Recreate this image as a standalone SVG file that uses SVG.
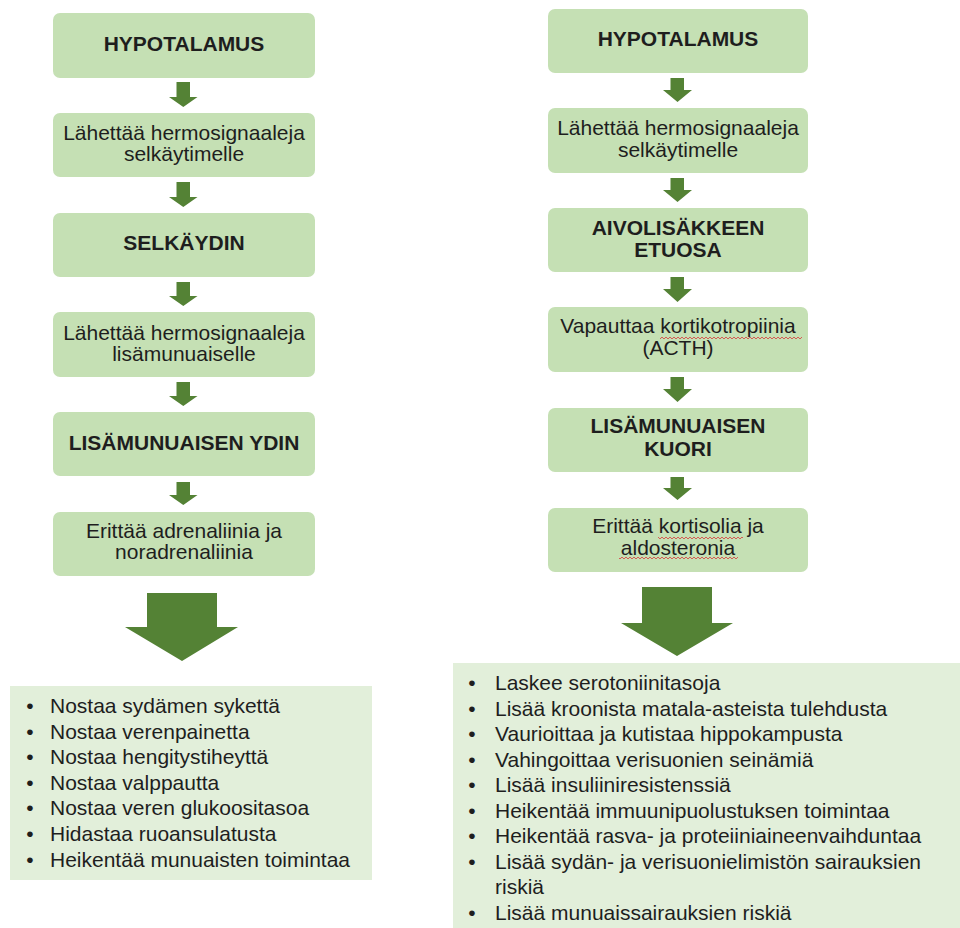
<svg xmlns="http://www.w3.org/2000/svg" width="960" height="928" viewBox="0 0 960 928">
<defs>
<style>
.box{fill:#c5e0b4;}
.list{fill:#e2efda;}
.arr{fill:#548235;}
text{font-family:"Liberation Sans",Arial,sans-serif;font-size:21px;fill:#1e1e1e;}
.t{text-anchor:middle;}
.b{font-weight:bold;}
.bul{text-anchor:middle;}
</style>
<pattern id="squig" x="0" y="0" width="4" height="4" patternUnits="userSpaceOnUse">
<path d="M0,3 L2,1 L4,3" fill="none" stroke="#d9383a" stroke-width="0.8"/>
</pattern>
</defs>
<rect width="960" height="928" fill="#ffffff"/>

<g id="left-column">
<g id="L1"><rect class="box" x="53" y="13" width="262" height="65" rx="7"/><text class="t b" x="184" y="51">HYPOTALAMUS</text></g>
<g id="L2"><rect class="box" x="53" y="113" width="262" height="64" rx="7"/><text class="t" x="184" y="140">Lähettää hermosignaaleja</text><text class="t" x="184" y="161">selkäytimelle</text></g>
<g id="L3"><rect class="box" x="53" y="213" width="262" height="64" rx="7"/><text class="t b" x="184" y="250">SELKÄYDIN</text></g>
<g id="L4"><rect class="box" x="53" y="312" width="262" height="65" rx="7"/><text class="t" x="184" y="340">Lähettää hermosignaaleja</text><text class="t" x="184" y="361">lisämunuaiselle</text></g>
<g id="L5"><rect class="box" x="53" y="412" width="262" height="64" rx="7"/><text class="t b" x="184" y="450">LISÄMUNUAISEN YDIN</text></g>
<g id="L6"><rect class="box" x="53" y="512" width="262" height="64" rx="7"/><text class="t" x="184" y="538">Erittää adrenaliinia ja</text><text class="t" x="184" y="559">noradrenaliinia</text></g>
<g id="L-effects">
<rect class="list" x="10" y="686" width="362" height="194"/>
<text class="bul" x="30" y="713">•</text><text x="50" y="713">Nostaa sydämen sykettä</text>
<text class="bul" x="30" y="738.6">•</text><text x="50" y="738.6">Nostaa verenpainetta</text>
<text class="bul" x="30" y="764.2">•</text><text x="50" y="764.2">Nostaa hengitystiheyttä</text>
<text class="bul" x="30" y="789.8">•</text><text x="50" y="789.8">Nostaa valppautta</text>
<text class="bul" x="30" y="815.4">•</text><text x="50" y="815.4">Nostaa veren glukoositasoa</text>
<text class="bul" x="30" y="841">•</text><text x="50" y="841">Hidastaa ruoansulatusta</text>
<text class="bul" x="30" y="866.6">•</text><text x="50" y="866.6">Heikentää munuaisten toimintaa</text>
</g>
</g>

<g id="right-column">
<g id="R1"><rect class="box" x="548" y="9" width="260" height="64" rx="7"/><text class="t b" x="678" y="46">HYPOTALAMUS</text></g>
<g id="R2"><rect class="box" x="548" y="108" width="260" height="65" rx="7"/><text class="t" x="678" y="135">Lähettää hermosignaaleja</text><text class="t" x="678" y="157">selkäytimelle</text></g>
<g id="R3"><rect class="box" x="548" y="208" width="260" height="64" rx="7"/><text class="t b" x="678" y="235">AIVOLISÄKKEEN</text><text class="t b" x="678" y="257">ETUOSA</text></g>
<g id="R4"><rect class="box" x="548" y="307" width="260" height="65" rx="7"/><text class="t" x="678" y="333">Vapauttaa kortikotropiinia</text><text class="t" x="678" y="355">(ACTH)</text>
<rect x="660" y="336" width="142" height="4" fill="url(#squig)"/></g>
<g id="R5"><rect class="box" x="548" y="408" width="260" height="64" rx="7"/><text class="t b" x="678" y="433">LISÄMUNUAISEN</text><text class="t b" x="678" y="456">KUORI</text></g>
<g id="R6"><rect class="box" x="548" y="508" width="260" height="64" rx="7"/><text class="t" x="678" y="533">Erittää kortisolia ja</text><text class="t" x="678" y="555">aldosteronia</text>
<rect x="658" y="536" width="85" height="4" fill="url(#squig)"/>
<rect x="619" y="556" width="119" height="4" fill="url(#squig)"/></g>
<g id="R-effects">
<rect class="list" x="453" y="663" width="507" height="265"/>
<text class="bul" x="472" y="690">•</text><text x="495" y="690">Laskee serotoniinitasoja</text>
<text class="bul" x="472" y="715.5">•</text><text x="495" y="715.5">Lisää kroonista matala-asteista tulehdusta</text>
<text class="bul" x="472" y="741">•</text><text x="495" y="741">Vaurioittaa ja kutistaa hippokampusta</text>
<text class="bul" x="472" y="766.5">•</text><text x="495" y="766.5">Vahingoittaa verisuonien seinämiä</text>
<text class="bul" x="472" y="792">•</text><text x="495" y="792">Lisää insuliiniresistenssiä</text>
<text class="bul" x="472" y="817.5">•</text><text x="495" y="817.5">Heikentää immuunipuolustuksen toimintaa</text>
<text class="bul" x="472" y="843">•</text><text x="495" y="843">Heikentää rasva- ja proteiiniaineenvaihduntaa</text>
<text class="bul" x="472" y="868.5">•</text><text x="495" y="868.5">Lisää sydän- ja verisuonielimistön sairauksien</text>
<text x="495" y="894">riskiä</text>
<text class="bul" x="472" y="919.5">•</text><text x="495" y="919.5">Lisää munuaissairauksien riskiä</text>
</g>
</g>

<g id="connectors">
<path class="arr" d="M176.5,82 H190 V97 H197.5 L183.3,107 L169,97 H176.5 Z"/>
<path class="arr" d="M176.5,182 H190 V197 H197.5 L183.3,207 L169,197 H176.5 Z"/>
<path class="arr" d="M176.5,282 H190 V296 H197.5 L183.3,306 L169,296 H176.5 Z"/>
<path class="arr" d="M176.5,382 H190 V396 H197.5 L183.3,406 L169,396 H176.5 Z"/>
<path class="arr" d="M176.5,482 H190 V495 H197.5 L183.3,505 L169,495 H176.5 Z"/>
<path class="arr" d="M147,593 H217 V627 H238 L182,661 L125,627 H147 Z"/>
<path class="arr" d="M670.5,78 H684 V90 H692 L677.5,102 L663,90 H670.5 Z"/>
<path class="arr" d="M670.5,178 H684 V190 H692 L677.5,202 L663,190 H670.5 Z"/>
<path class="arr" d="M670.5,277 H684 V289 H692 L677.5,302 L663,289 H670.5 Z"/>
<path class="arr" d="M670.5,377 H684 V389 H692 L677.5,402 L663,389 H670.5 Z"/>
<path class="arr" d="M670.5,477 H684 V488 H692 L677.5,500 L663,488 H670.5 Z"/>
<path class="arr" d="M642,587 H712 V623 H733 L677,656 L621,623 H642 Z"/>
</g>
</svg>
